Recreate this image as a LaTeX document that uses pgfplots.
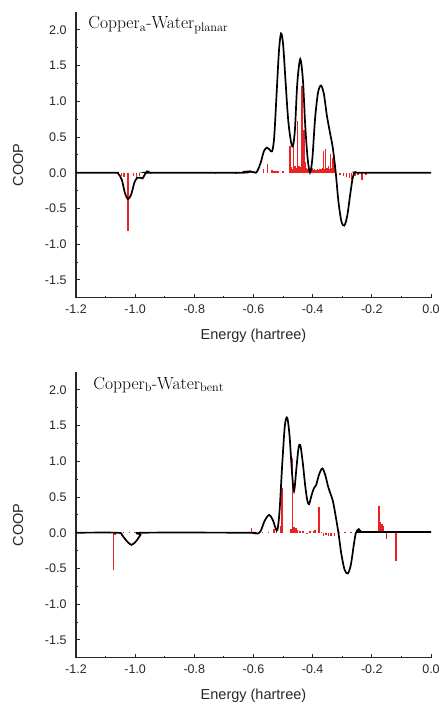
\documentclass[border=0pt]{standalone}
\usepackage{fontspec}
\setsansfont{Liberation Sans}
\usepackage{pgfplots}
\pgfplotsset{compat=1.18}
\definecolor{stickred}{RGB}{236,34,34}
\definecolor{axgray}{RGB}{40,40,40}

\pgfplotsset{coop/.style={
  scale only axis, width=355pt, height=285.7pt,
  xmin=-1.2, xmax=0, ymin=-1.75, ymax=2.25,
  axis lines=left, axis line style={-, line width=1.1pt, axgray},
  tick align=inside, major tick length=4pt, minor tick length=2pt,
  tick style={line width=0.9pt, axgray},
  xtick={-1.2,-1.0,...,0.0}, minor x tick num=1,
  ytick={-1.5,-1.0,...,2.0}, minor y tick num=1,
  /pgf/number format/assume math mode=true,
  /pgf/number format/.cd, fixed, fixed zerofill, precision=1, /pgfplots/.cd,
  tick label style={font=\sffamily\fontsize{12.5}{14}\selectfont, text=axgray},
  xticklabel style={yshift=-4pt},
  yticklabel style={xshift=-6pt},
  label style={font=\sffamily\fontsize{14.5}{16}\selectfont, text=axgray},
  xlabel={Energy (hartree)},
  xlabel style={at={(axis description cs:0.5,0)}, anchor=center, yshift=-38pt},
  ylabel={COOP},
  ylabel style={at={(axis description cs:-0.163,0.465)}, anchor=center, rotate=0},
  clip=false,
}}

\begin{document}
\begin{tikzpicture}
\path[use as bounding box] (0,0) rectangle (439pt,-703pt);

% top: planar
\begin{axis}[coop, at={(76pt,-297.7pt)}, anchor=south west]
\addplot[ycomb, stickred, line width=1.5pt, mark=none] coordinates {
(-1.047,-0.05) (-1.037,-0.06) (-1.024,-0.82) (-1.006,-0.05) (-0.996,-0.07)
(-0.985,-0.04) (-0.963,-0.02) (-0.949,-0.02) (-0.728,-0.02) (-0.659,-0.02)
(-0.620,0.02) (-0.612,0.03) (-0.605,0.03) (-0.598,0.02) (-0.590,0.03)
(-0.567,0.05) (-0.552,0.12) (-0.538,0.04) (-0.530,0.03) (-0.524,0.03)
(-0.518,0.03) (-0.501,0.03) (-0.477,0.38) (-0.474,0.06) (-0.471,0.08)
(-0.468,0.05) (-0.465,0.37) (-0.462,0.06) (-0.460,0.10) (-0.456,0.07)
(-0.451,0.73) (-0.448,0.06) (-0.446,0.10) (-0.442,0.08) (-0.439,0.05)
(-0.436,1.21) (-0.432,0.08) (-0.429,0.60) (-0.426,0.15) (-0.423,0.06)
(-0.420,0.05) (-0.416,0.04) (-0.410,0.03) (-0.403,0.07) (-0.400,0.05)
(-0.397,0.04) (-0.394,0.05) (-0.392,0.03) (-0.389,0.04) (-0.386,0.04)
(-0.383,0.05) (-0.381,0.03) (-0.378,0.04) (-0.376,0.05) (-0.373,0.04)
(-0.370,0.05) (-0.367,0.06) (-0.364,0.30) (-0.360,0.05) (-0.356,0.33)
(-0.352,0.06) (-0.347,0.10) (-0.343,0.05) (-0.339,0.26) (-0.335,0.06)
(-0.332,0.20) (-0.327,0.10)
(-0.308,-0.03) (-0.296,-0.05) (-0.285,-0.06) (-0.276,-0.07) (-0.268,-0.10)
(-0.257,-0.05) (-0.246,-0.03) (-0.234,-0.10) (-0.220,-0.03)
};
\addplot[smooth, black, line width=1.7pt, mark=none] coordinates {
(-1.2,0) (-1.07,0) (-1.058,-0.01) (-1.045,-0.10) (-1.035,-0.28) (-1.024,-0.37)
(-1.013,-0.30) (-1.002,-0.13) (-0.992,-0.07) (-0.983,-0.07) (-0.975,-0.08)
(-0.968,-0.03) (-0.960,0.02) (-0.952,0.005) (-0.94,0) (-0.64,0)
(-0.625,0.015) (-0.612,0.02) (-0.600,0.005) (-0.592,0.0) (-0.585,0.04)
(-0.575,0.15) (-0.565,0.30) (-0.555,0.35) (-0.545,0.32) (-0.537,0.30)
(-0.530,0.50) (-0.522,1.10) (-0.514,1.70) (-0.507,1.95) (-0.500,1.80)
(-0.492,1.30) (-0.483,0.75) (-0.474,0.45) (-0.467,0.37) (-0.460,0.60)
(-0.452,1.25) (-0.442,1.59) (-0.433,1.30) (-0.425,0.65) (-0.417,0.20)
(-0.409,0.0) (-0.401,0.20) (-0.392,0.75) (-0.382,1.12) (-0.372,1.22)
(-0.362,1.10) (-0.352,0.80) (-0.341,0.55) (-0.332,0.35) (-0.322,0.0)
(-0.313,-0.40) (-0.303,-0.68) (-0.293,-0.74) (-0.283,-0.60) (-0.273,-0.30)
(-0.265,-0.08) (-0.259,0.0) (-0.252,0.01) (-0.24,0) (0,0)
};
\node[anchor=west, font=\rmfamily\fontsize{17.5}{19}\selectfont] at (axis cs:-1.17,2.07)
  {Copper$_{\mathrm{a}}$-Water$_{\mathrm{planar}}$};
\end{axis}

% bottom: bent
\begin{axis}[coop, at={(76pt,-657.7pt)}, anchor=south west]
\addplot[ycomb, stickred, line width=1.5pt, mark=none] coordinates {
(-1.074,-0.52) (-1.068,-0.03) (-1.04,0.01) (-1.02,0.01) (-1.0,0.01)
(-0.640,0.01) (-0.620,0.01) (-0.606,0.07) (-0.590,0.01) (-0.570,0.01)
(-0.550,0.01) (-0.530,0.05) (-0.522,0.03) (-0.507,0.10) (-0.503,0.62)
(-0.473,0.05) (-0.469,1.05) (-0.463,0.08) (-0.457,0.07) (-0.451,0.04)
(-0.443,0.03) (-0.432,0.02) (-0.420,-0.02) (-0.409,0.02) (-0.398,0.03)
(-0.392,0.04) (-0.379,0.36) (-0.370,0.01) (-0.364,-0.05) (-0.355,-0.03)
(-0.347,-0.04) (-0.338,-0.04) (-0.327,-0.05) (-0.310,0.005) (-0.290,0.005)
(-0.270,0.005) (-0.250,0.005) (-0.175,0.38) (-0.170,0.15) (-0.166,0.12)
(-0.161,0.10) (-0.150,-0.09) (-0.118,-0.39)
};
\addplot[smooth, black, line width=1.7pt, mark=none] coordinates {
(-1.2,0) (-1.06,0) (-1.045,-0.03) (-1.03,-0.11) (-1.012,-0.17) (-0.995,-0.11)
(-0.982,-0.03) (-0.972,0) (-0.62,0) (-0.60,-0.005) (-0.585,-0.01)
(-0.575,0.03) (-0.562,0.17) (-0.547,0.25) (-0.535,0.18) (-0.525,0.06)
(-0.519,0.04) (-0.512,0.30) (-0.503,0.95) (-0.494,1.50) (-0.486,1.61)
(-0.478,1.35) (-0.470,0.85) (-0.463,0.58) (-0.455,0.90) (-0.448,1.18)
(-0.442,1.23) (-0.434,1.00) (-0.425,0.65) (-0.418,0.45) (-0.412,0.40)
(-0.404,0.52) (-0.396,0.62) (-0.388,0.67) (-0.378,0.82) (-0.367,0.90)
(-0.357,0.80) (-0.348,0.65) (-0.341,0.56) (-0.332,0.45) (-0.323,0.25)
(-0.313,0.0) (-0.303,-0.30) (-0.292,-0.52) (-0.281,-0.57) (-0.271,-0.45)
(-0.262,-0.20) (-0.255,-0.02) (-0.248,0.04) (-0.244,0.05) (-0.238,0.02)
(-0.232,0.01) (0,0.01)
};
\node[anchor=west, font=\rmfamily\fontsize{17.5}{19}\selectfont] at (axis cs:-1.153,2.07)
  {Copper$_{\mathrm{b}}$-Water$_{\mathrm{bent}}$};
\end{axis}
\end{tikzpicture}
\end{document}
